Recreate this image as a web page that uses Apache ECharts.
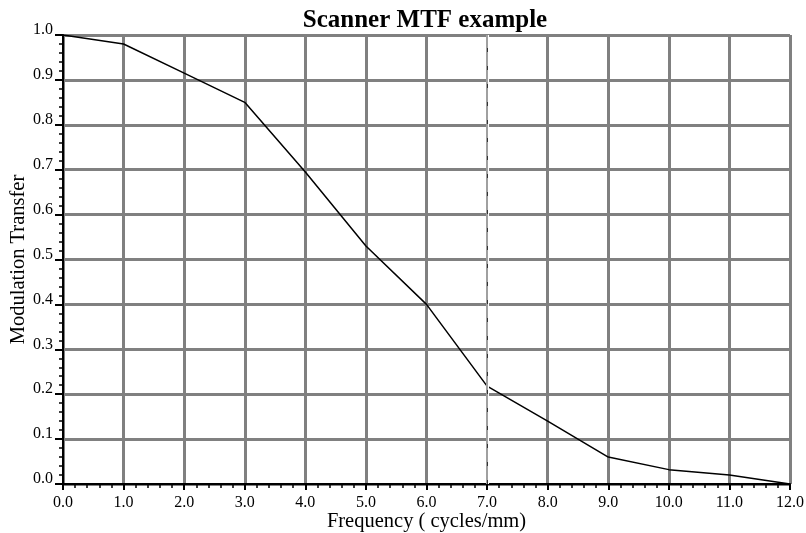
<!DOCTYPE html>
<html>
<head>
<meta charset="utf-8">
<script src="https://cdn.jsdelivr.net/npm/echarts@6/dist/echarts.min.js"></script>
<style>
  html, body { margin: 0; padding: 0; background: #fff; }
  #chart { width: 806px; height: 533px; }
</style>
</head>
<body>
<div id="chart"></div>
<script>
// frequency in cycles/mm, modulation transfer
var frequency = [0, 1, 2, 3, 4, 5, 6, 7, 8, 9, 10, 11, 12];
var modulation = [1.0, 0.98, 0.915, 0.85, 0.695, 0.53, 0.40, 0.218, 0.14, 0.06, 0.032, 0.02, 0.0];

var serif = '"Liberation Serif", "DejaVu Serif", serif';
var gridGray = '#808080';

var myChart = echarts.init(document.getElementById('chart'));
myChart.setOption({
    animation: false,
    title: {
        text: 'Scanner MTF example',
        left: 420,
        textAlign: 'center',
        top: 3,
        textStyle: { fontFamily: serif, fontSize: 25, fontWeight: 'bold', color: '#000' }
    },
    grid: {
        left: 63,
        right: 16,
        top: 35,
        bottom: 49,
        containLabel: false,
        outerBoundsMode: 'none'
    },
    xAxis: {
        type: 'value',
        min: 0,
        max: 12,
        interval: 1,
        name: 'Frequency ( cycles/mm)',
        nameLocation: 'middle',
        nameGap: 27,
        nameMoveOverlap: false,
        nameTextStyle: { fontFamily: serif, fontSize: 20.5, color: '#000' },
        axisLine: { show: true, onZero: false, lineStyle: { color: '#000', width: 2 } },
        axisTick: { show: true, length: 6, lineStyle: { color: '#000', width: 2 } },
        minorTick: { show: true, splitNumber: 5, length: 4, lineStyle: { color: '#000', width: 1.5 } },
        splitLine: { show: true, lineStyle: { color: gridGray, width: 3 } },
        axisLabel: {
            fontFamily: serif, fontSize: 16, color: '#000', margin: 11,
            formatter: function (v) { return v.toFixed(1); }
        }
    },
    yAxis: {
        type: 'value',
        min: 0,
        max: 1,
        interval: 0.1,
        name: 'Modulation Transfer',
        nameLocation: 'middle',
        nameRotate: 90,
        nameGap: 34,
        nameMoveOverlap: false,
        nameTextStyle: { fontFamily: serif, fontSize: 20.5, color: '#000' },
        axisLine: { show: true, onZero: false, lineStyle: { color: '#000', width: 2 } },
        axisTick: { show: true, length: 8, lineStyle: { color: '#000', width: 2 } },
        minorTick: { show: true, splitNumber: 5, length: 4, lineStyle: { color: '#000', width: 1.5 } },
        splitLine: { show: true, lineStyle: { color: gridGray, width: 3 } },
        axisLabel: {
            fontFamily: serif, fontSize: 16, color: '#000', margin: 10,
            verticalAlign: 'bottom', lineHeight: 10,
            formatter: function (v) { return v.toFixed(1); }
        }
    },
    series: [{
        type: 'line',
        data: frequency.map(function (f, i) { return [f, modulation[i]]; }),
        symbol: 'none',
        lineStyle: { color: '#000', width: 1.5 },
        z: 3
    }, {
        // the 7.0 grid line is drawn thin in the original
        type: 'line',
        data: [],
        z: 1,
        silent: true,
        markLine: {
            symbol: 'none',
            silent: true,
            label: { show: false },
            data: [
                { xAxis: 7, lineStyle: { color: '#fff', width: 3, type: 'solid' } },
                { xAxis: 7, lineStyle: { color: gridGray, width: 1.5, type: 'solid' } },
                { xAxis: 7, lineStyle: { color: '#333', width: 1, type: [4, 14] } }
            ]
        }
    }]
});
</script>
</body>
</html>
